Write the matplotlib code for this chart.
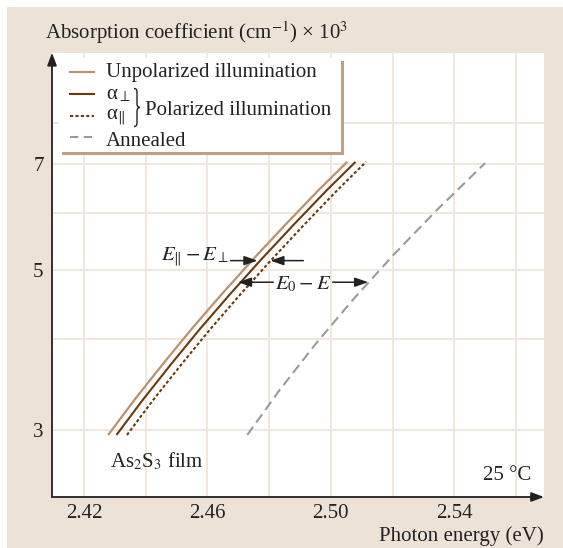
import matplotlib
matplotlib.use("Agg")
import matplotlib.pyplot as plt
from matplotlib.patches import Rectangle, PathPatch
from matplotlib.lines import Line2D
from matplotlib.path import Path

plt.rcParams['font.family'] = ['Liberation Serif', 'DejaVu Serif']
plt.rcParams['mathtext.fontset'] = 'stix'
plt.rcParams['font.size'] = 15

# ---- data ----
alpha_rows = [2.948, 3.297, 3.687, 4.124, 4.612, 5.158, 5.769, 6.452, 7.055]
energy_unpol = [2.4278, 2.4363, 2.4453, 2.4546, 2.4644, 2.4746, 2.4852, 2.4961, 2.5053]
energy_perp = [2.4305, 2.4390, 2.4480, 2.4573, 2.4671, 2.4773, 2.4879, 2.4988, 2.5080]
energy_par = [2.4339, 2.4424, 2.4514, 2.4607, 2.4705, 2.4807, 2.4913, 2.5022, 2.5114]

energy_ann = [2.4729, 2.4834, 2.4948, 2.5071, 2.5203, 2.5344, 2.5500]
alpha_ann = [2.948, 3.404, 3.930, 4.539, 5.241, 6.052, 7.026]

x_ticks = [2.42, 2.44, 2.46, 2.48, 2.50, 2.52, 2.54, 2.56]
x_tick_labels = ['2.42', '', '2.46', '', '2.50', '', '2.54', '']
y_ticks = [3, 4, 5, 6, 7, 8]
y_tick_labels = ['3', '', '5', '', '7', '']

# markers for the energy differences
e_perp_row = 5.146
e_perp_arrows = [(2.4675, 2.4762), (2.4911, 2.4804)]   # (tail, tip)
e0_row = 4.803
e0_arrows = [(2.4813, 2.4699), (2.5006, 2.5121)]

# ---- colours ----
bg = '#ece2d6'
grid_c = '#efe6db'
tan = '#b89170'
brown = '#6b3a0c'
grey = '#9a9a9a'
shadow = '#c1a07e'
axis_c = '#222222'

W, H = 563, 548


def fpos(x, y):
    # pixel position (top-left origin) -> figure fraction
    return x / W, 1 - y / H


fig = plt.figure(figsize=(W / 100, H / 100), dpi=100)
fig.patch.set_facecolor('white')
fig.add_artist(Rectangle((7 / W, 0), 1, 1 - 7 / H, transform=fig.transFigure,
                         facecolor=bg, edgecolor='none', zorder=-10))

ax = fig.add_axes([52 / W, 51 / H, 492 / W, 444.3 / H])
ax.set_facecolor('white')
ax.set_yscale('log')
ax.set_xlim(2.4096, 2.5691)
ax.set_ylim(2.418, 10.0)

ax.set_xticks(x_ticks)
ax.set_xticklabels(x_tick_labels)
ax.set_yticks(y_ticks)
ax.set_yticklabels(y_tick_labels)
ax.minorticks_off()
ax.tick_params(axis='both', length=0, colors='#222222', labelsize=15)
ax.tick_params(axis='x', pad=5)
ax.tick_params(axis='y', pad=6)
ax.grid(True, color=grid_c, lw=1.3)
ax.set_axisbelow(True)
for s in ax.spines.values():
    s.set_visible(False)

# axis arrows
for tip in [(0, 1.0), (1.0, 0)]:
    ax.annotate('', xy=tip, xytext=(0, 0), xycoords='axes fraction',
                arrowprops=dict(arrowstyle='-|>,head_length=0.75,head_width=0.28',
                                lw=1.3, color=axis_c, shrinkA=0, shrinkB=0,
                                mutation_scale=10))

# curves
ax.plot(energy_unpol, alpha_rows, color=tan, lw=1.6, solid_capstyle='butt',
        solid_joinstyle='round')
ax.plot(energy_perp, alpha_rows, color=brown, lw=1.5, solid_capstyle='butt',
        solid_joinstyle='round')
ax.plot(energy_par, alpha_rows, color=brown, lw=1.5, dashes=(1.5, 1.1))
ax.plot(energy_ann, alpha_ann, color=grey, lw=1.5, dashes=(4.8, 2.6))

# energy difference arrows
arr = dict(arrowstyle='-|>,head_length=0.8,head_width=0.28', lw=1.1,
           color=axis_c, shrinkA=0, shrinkB=0, mutation_scale=10)
for tail, tip in e_perp_arrows:
    ax.annotate('', xy=(tip, e_perp_row), xytext=(tail, e_perp_row), arrowprops=arr)
for tail, tip in e0_arrows:
    ax.annotate('', xy=(tip, e0_row), xytext=(tail, e0_row), arrowprops=arr)
ax.text(2.4670, e_perp_row, r'$E_{\Vert}-E_{\perp}$', ha='right', va='baseline',
        fontsize=15, color=axis_c)
ax.text(2.4910, 4.694, r'$E_0-E$', ha='center', va='baseline',
        fontsize=15, color=axis_c)

# legend drawn by hand
fig.add_artist(Rectangle(fpos(62, 155), 282 / W, 94 / H, transform=fig.transFigure,
                         facecolor=shadow, edgecolor='none', zorder=5))
fig.add_artist(Rectangle(fpos(59, 152), 282 / W, 94 / H, transform=fig.transFigure,
                         facecolor='white', edgecolor='none', zorder=6))
leg_rows = [(72, tan, None), (94, brown, None), (115.5, brown, (1.5, 1.1)), (137, grey, (4.0, 2.6))]
for yy, c, d in leg_rows:
    x0, y0 = fpos(70, yy)
    x1, _ = fpos(94, yy)
    ln = Line2D([x0, x1], [y0, y0], color=c, lw=1.5, transform=fig.transFigure, zorder=7)
    if d is not None:
        ln.set_dashes(d)
    fig.add_artist(ln)

txt = dict(color='#222222', fontsize=15, zorder=8, va='baseline')
fig.text(*fpos(106, 77), 'Unpolarized illumination', **txt)
fig.text(*fpos(106, 99.5), r'α$_{\perp}$', **txt)
fig.text(*fpos(106, 120), r'α$_{\Vert}$', **txt)
fig.text(*fpos(106, 145.5), 'Annealed', **txt)
fig.text(*fpos(145, 115), 'Polarized illumination', **txt)

# thin curly brace
brace_px = [(134, 88.5), (136.5, 88.5), (137, 90), (137, 93), (137, 103.5),
            (137, 106.3), (138, 107.3), (140, 107.5),
            (138, 107.7), (137, 108.7), (137, 111.5), (137, 122),
            (137, 125), (136.5, 126.5), (134, 126.5)]
codes = [Path.MOVETO, Path.CURVE4, Path.CURVE4, Path.CURVE4, Path.LINETO,
         Path.CURVE4, Path.CURVE4, Path.CURVE4,
         Path.CURVE4, Path.CURVE4, Path.CURVE4, Path.LINETO,
         Path.CURVE4, Path.CURVE4, Path.CURVE4]
fig.add_artist(PathPatch(Path([fpos(*p) for p in brace_px], codes),
                         transform=fig.transFigure, facecolor='none',
                         edgecolor='#222222', lw=1.0, zorder=8))

# labels and notes
fig.text(*fpos(45, 39.5), r'Absorption coefficient (cm$^{-1}$) × 10$^{3}$', **txt)
fig.text(*fpos(544, 541), 'Photon energy (eV)', ha='right', color='#222222',
         fontsize=15, va='baseline')
fig.text(*fpos(110, 467.5), r'As$_2$S$_3$ film', **txt)
fig.text(*fpos(531, 480), '25 °C', ha='right', color='#222222', fontsize=15,
         va='baseline')

fig.savefig('out.png', dpi=100)
